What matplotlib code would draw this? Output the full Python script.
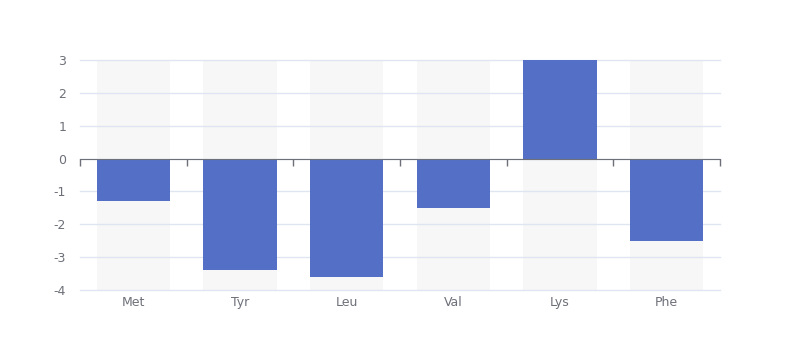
import numpy as np
import matplotlib.pyplot as plt
from matplotlib.transforms import offset_copy

plt.rcParams['axes.unicode_minus'] = False

categories = ['Met', 'Tyr', 'Leu', 'Val', 'Lys', 'Phe']
values = [-1.3, -3.4, -3.6, -1.5, 3.0, -2.5]
y_ticks = [-4, -3, -2, -1, 0, 1, 2, 3]

bar_color = '#5470c6'
bg_color = '#f7f7f7'
grid_color = '#e0e6f1'
axis_color = '#6e7079'

fig = plt.figure(figsize=(8, 3.6), dpi=100)
ax = fig.add_axes([0.1, 70 / 360, 0.8, 230 / 360])

x = np.arange(len(categories))
width = 0.69
ymin, ymax = y_ticks[0], y_ticks[-1]

# background bars
ax.bar(x, ymax - ymin, bottom=ymin, width=width, color=bg_color, zorder=0)
# grid
for t in y_ticks:
    ax.axhline(t, color=grid_color, lw=1, zorder=1, clip_on=False)
ax.bar(x, values, width=width, color=bar_color, zorder=3)

ax.set_xlim(-0.5, len(categories) - 0.5)
ax.set_ylim(ymin, ymax)

for s in ['top', 'right', 'left']:
    ax.spines[s].set_visible(False)
ax.spines['bottom'].set_position(('data', 0))
ax.spines['bottom'].set_color(axis_color)
ax.spines['bottom'].set_zorder(4)
ax.set_xticks(np.arange(len(categories) + 1) - 0.5)
ax.set_xticklabels([])
ax.tick_params(axis='x', direction='out', length=5, color=axis_color, width=1)

ax.set_yticks(y_ticks)
ax.tick_params(axis='y', length=0, pad=10, labelcolor=axis_color, labelsize=9)

trans = offset_copy(ax.get_xaxis_transform(), fig=fig, x=0, y=-6, units='dots')
for xi, lab in zip(x, categories):
    ax.text(xi, 0, lab, transform=trans, ha='center', va='top',
            color=axis_color, fontsize=9)

fig.savefig('out.png', dpi=100)
